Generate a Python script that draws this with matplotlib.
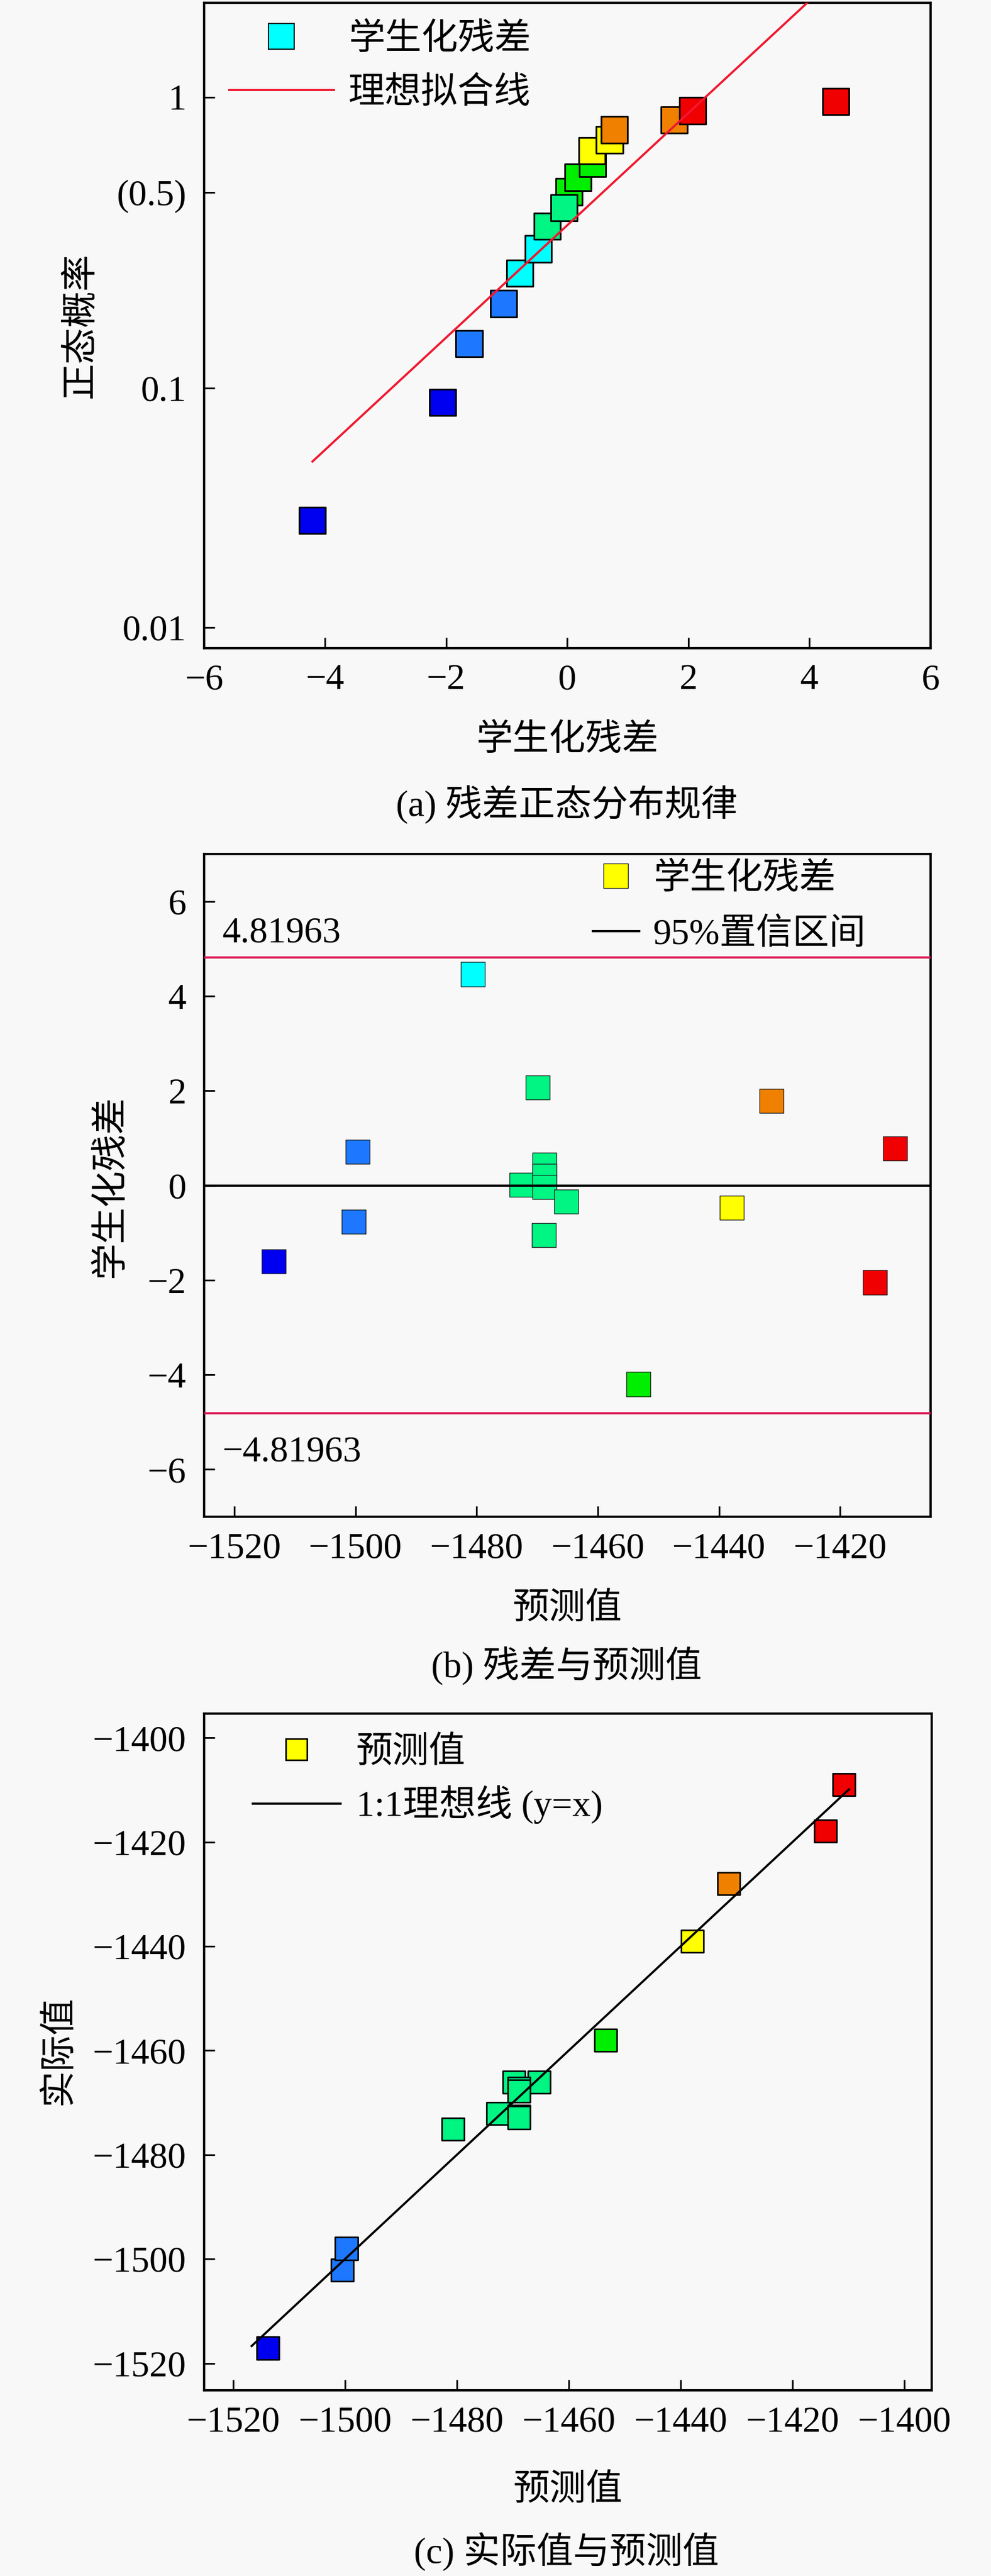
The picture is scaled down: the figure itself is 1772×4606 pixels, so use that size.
import numpy as np
import matplotlib
matplotlib.use('Agg')
import matplotlib.pyplot as plt
from matplotlib.lines import Line2D

plt.rcParams['font.family'] = ['Liberation Serif', 'Noto Sans CJK SC']
plt.rcParams['font.size'] = 47
plt.rcParams['axes.linewidth'] = 3.0

# ---- (a) residual normal probability ----
res_a = [-4.21, -2.06, -1.62, -1.05, -0.78, -0.48, -0.33, 0.03, -0.055, 0.18,
         0.42, 0.41, 0.70, 0.78, 1.77, 2.07, 4.44]
prob_a = [0.028, 0.087, 0.144, 0.200, 0.257, 0.314, 0.378, 0.502, 0.440, 0.558,
          0.618, 0.676, 0.733, 0.789, 0.846, 0.906, 0.970]
col_a = ['#0000F0', '#0000F0', '#1E78FF', '#1E78FF', '#00FFFF', '#00FFFF',
         '#00F582', '#00EE00', '#00F582', '#00EE00', '#00EE00', '#FFFF00',
         '#FFFF00', '#F08000', '#F08000', '#F00000', '#F00000']
fit_x = [-4.21, 3.97]
fit_p = [0.0493, 1.99]
prob_ticks = [0.01, 0.1, 0.5, 1]
prob_labels = ['0.01', '0.1', '(0.5)', '1']

# ---- (b) studentized residual vs predicted ----
pred_b = [-1513.5, -1499.65, -1500.3, -1480.65, -1472.55, -1469.9, -1468.85,
          -1468.85, -1468.85, -1468.9, -1465.2, -1453.3, -1437.85, -1431.3,
          -1414.25, -1410.9]
stud_b = [-1.61, 0.71, -0.77, 4.46, 0.01, 2.07, 0.44, 0.20, -0.03, -1.05,
          -0.34, -4.20, -0.47, 1.78, -2.05, 0.78]
col_b = ['#0000F0', '#1E78FF', '#1E78FF', '#00FFFF', '#00F582', '#00F582',
         '#00F582', '#00F582', '#00F582', '#00F582', '#00F582', '#00EE00',
         '#FFFF00', '#F08000', '#F00000', '#F00000']
limit = 4.81963

# ---- (c) actual vs predicted ----
pred_c = [-1513.8, -1500.5, -1499.75, -1480.7, -1472.65, -1469.8, -1465.3,
          -1468.9, -1468.9, -1468.9, -1468.9, -1453.4, -1437.9, -1431.4,
          -1414.1, -1410.8]
act_c = [-1517.1, -1502.1, -1498.0, -1475.1, -1472.1, -1466.1, -1466.1,
         -1467.3, -1467.8, -1472.6, -1472.9, -1458.0, -1439.0, -1428.0,
         -1417.9, -1409.0]
col_c = ['#0000F0', '#1E78FF', '#1E78FF', '#00F582', '#00F582', '#00F582',
         '#00F582', '#00F582', '#00F582', '#00F582', '#00F582', '#00EE00',
         '#FFFF00', '#F08000', '#F00000', '#F00000']
line_c = [-1516.7, -1409.9]

# probability axis of panel (a): piecewise in log10(p)
LP = [-2.0, -1.0, np.log10(0.5), 0.0]
U = [0.0, 1.0, 1.8162, 2.2137]
TOP_SLOPE = (U[3] - U[2]) / (LP[3] - LP[2])


def prob_fwd(p):
    lp = np.log10(np.maximum(np.asarray(p, dtype=float), 1e-9))
    return np.where(lp < LP[0], lp - LP[0],
                    np.where(lp > 0, U[3] + lp * TOP_SLOPE, np.interp(lp, LP, U)))


def prob_inv(u):
    u = np.asarray(u, dtype=float)
    lp = np.where(u < 0, u + LP[0],
                  np.where(u > U[3], (u - U[3]) / TOP_SLOPE, np.interp(u, U, LP)))
    return 10 ** lp


def style(ax):
    ax.tick_params(direction='in', length=13.5, width=2.2, labelsize=47,
                   top=False, right=False)
    ax.tick_params(axis='x', pad=20)
    ax.tick_params(axis='y', pad=23)
    ax.set_facecolor('#f8f8f8')


W, H = 1772, 4606
fig = plt.figure(figsize=(W / 100, H / 100), dpi=100, facecolor='#f8f8f8')

# (a)
ax1 = fig.add_axes([365 / W, 1 - 1159 / H, 1298.5 / W, 1154.4 / H])
ax1.set_yscale('function', functions=(prob_fwd, prob_inv))
ax1.scatter(res_a, prob_a, s=34 ** 2, marker='s', c=col_a, edgecolors='k',
            linewidths=2.2, zorder=2)
ax1.plot(fit_x, fit_p, color='#F01830', lw=2.8, zorder=3)
ax1.set_xlim(-6, 6)
ax1.set_ylim(0.0082, 1.99)
ax1.set_xticks(range(-6, 7, 2))
ax1.set_yticks(prob_ticks)
ax1.set_yticklabels(prob_labels)
ax1.yaxis.set_minor_locator(matplotlib.ticker.NullLocator())
style(ax1)
ax1.set_xlabel('学生化残差', fontsize=47, va='center')
ax1.xaxis.set_label_coords(0.5, -0.1438)
ax1.set_ylabel('正态概率', fontsize=47, va='center')
ax1.yaxis.set_label_coords(-0.169, 0.5)
h1 = [Line2D([], [], ls='none', marker='s', ms=33, mfc='#00FFFF', mec='k', mew=1.5),
      Line2D([], [], color='#F01830', lw=2.8)]
ax1.legend(h1, ['学生化残差', '理想拟合线'], loc='upper left',
           bbox_to_anchor=(0.0347, 0.9685), frameon=False, borderpad=0,
           borderaxespad=0, handlelength=2.86, handletextpad=0.4,
           labelspacing=0.56, fontsize=47)
fig.text(1013 / W, 1 - 1438 / H, '(a) 残差正态分布规律', ha='center', va='center',
         fontsize=47)

# (b)
ax2 = fig.add_axes([365 / W, 1 - 2712 / H, 1298.5 / W, 1185 / H])
ax2.scatter(pred_b, stud_b, s=31 ** 2, marker='s', c=col_b, edgecolors='#222222',
            linewidths=1.0, zorder=2)
ax2.axhline(0, color='k', lw=2.8, zorder=3)
ax2.axhline(limit, color='#DC1450', lw=2.8, zorder=3)
ax2.axhline(-limit, color='#DC1450', lw=2.8, zorder=3)
ax2.text(-1522.0, 5.33, '4.81963', ha='left', va='center', fontsize=47)
ax2.text(-1522.0, -5.64, '\u22124.81963', ha='left', va='center', fontsize=47)
ax2.set_xlim(-1525.0, -1405.1)
ax2.set_ylim(-7, 7)
ax2.set_xticks(range(-1520, -1419, 20))
ax2.set_yticks(range(-6, 7, 2))
style(ax2)
ax2.set_xlabel('预测值', fontsize=47, va='center')
ax2.xaxis.set_label_coords(0.5, -0.140)
ax2.set_ylabel('学生化残差', fontsize=47, va='center')
ax2.yaxis.set_label_coords(-0.128, 0.498)
h2 = [Line2D([], [], ls='none', marker='s', ms=31, mfc='#FFFF00', mec='#222222', mew=1.0),
      Line2D([], [], color='k', lw=2.8)]
ax2.legend(h2, ['学生化残差', '95%置信区间'], loc='upper left',
           bbox_to_anchor=(0.535, 0.9868), frameon=False, borderpad=0,
           borderaxespad=0, handlelength=1.27, handletextpad=0.39,
           labelspacing=0.6, fontsize=47)
fig.text(1013 / W, 1 - 2978 / H, '(b) 残差与预测值', ha='center', va='center',
         fontsize=47)

# (c)
ax3 = fig.add_axes([365 / W, 1 - 4274 / H, 1301 / W, 1210.5 / H])
ax3.scatter(pred_c, act_c, s=29 ** 2, marker='s', c=col_c, edgecolors='k',
            linewidths=2.0, zorder=2)
ax3.plot(line_c, line_c, color='k', lw=2.8, zorder=3)
ax3.set_xlim(-1525.2, -1395.1)
ax3.set_ylim(-1525.2, -1395.3)
ax3.set_xticks(range(-1520, -1399, 20))
ax3.set_yticks(range(-1520, -1399, 20))
style(ax3)
ax3.set_xlabel('预测值', fontsize=47, va='center')
ax3.xaxis.set_label_coords(0.5, -0.1487)
ax3.set_ylabel('实际值', fontsize=47, va='center')
ax3.yaxis.set_label_coords(-0.199, 0.5025)
h3 = [Line2D([], [], ls='none', marker='s', ms=28, mfc='#FFFF00', mec='k', mew=2.0),
      Line2D([], [], color='k', lw=2.8)]
ax3.legend(h3, ['预测值', '1:1理想线 (y=x)'], loc='upper left',
           bbox_to_anchor=(0.0669, 0.9657), frameon=False, borderpad=0,
           borderaxespad=0, handlelength=2.4, handletextpad=0.43,
           labelspacing=0.42, fontsize=47)
fig.text(1013 / W, 1 - 4562 / H, '(c) 实际值与预测值', ha='center', va='center',
         fontsize=47)

fig.savefig('out.png', dpi=100, facecolor=fig.get_facecolor())
